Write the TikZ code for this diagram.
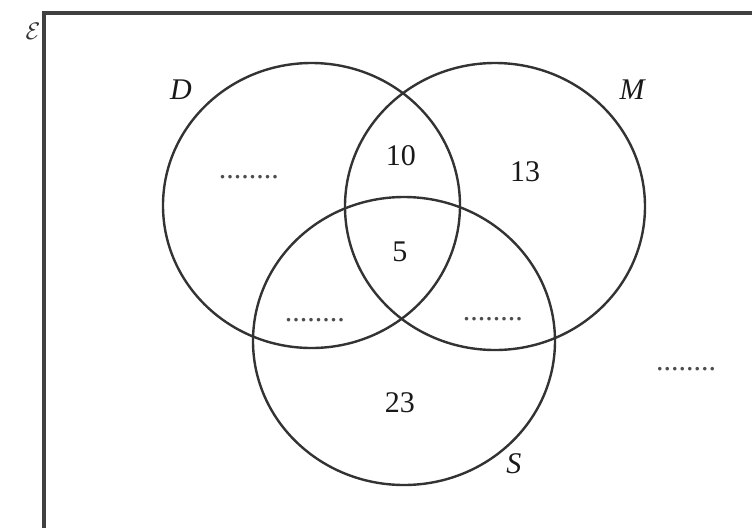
\documentclass[tikz,border=0pt]{standalone}
\usepackage{fontspec}
\setmainfont{Liberation Serif}
\usetikzlibrary{shapes.geometric}
\tikzset{
  setcirc/.style={draw=black!80, line width=1.2pt, ellipse, inner sep=0pt},
  num/.style={inner sep=0pt, font=\fontsize{15}{17}\selectfont, text=black!90},
  setname/.style={inner sep=0pt, font=\fontsize{15}{17}\selectfont\itshape, text=black!90},
  blank/.style={inner sep=0pt, font=\fontsize{15}{17}\selectfont, text=black!70},
  frame/.style={draw=black!75, line width=1.6pt}
}
\begin{document}
\begin{tikzpicture}[x=0.5pt,y=-0.5pt]
\useasboundingbox (0,0) rectangle (752,527);
% universal set frame (right and bottom edges lie outside the picture)
\draw[frame] (44,13) rectangle (780,560);
\node[inner sep=0pt, font=\fontsize{13}{15}\selectfont, text=black!80] (E) at (33,31) {$\mathcal{E}$};
% sets
\node[setcirc, minimum width=148.5pt, minimum height=142.5pt] (D) at (311.5,205.5) {};
\node[setcirc, minimum width=150pt, minimum height=143.5pt] (M) at (495,206.5) {};
\node[setcirc, minimum width=151pt, minimum height=144pt] (S) at (404,341) {};
% set labels
\node[setname] (Dl) at (181,90) {D};
\node[setname] (Ml) at (632,90) {M};
\node[setname] (Sl) at (514,464) {S};
% region values
\node[num] (n10) at (401,156) {10};
\node[num] (n13) at (525,172) {13};
\node[num] (n5) at (400,252) {5};
\node[num] (n23) at (400,403) {23};
% blanks
\node[blank] (b1) at (249,177) {........};
\node[blank] (b2) at (315,320) {........};
\node[blank] (b3) at (493,319) {........};
\node[blank] (b4) at (686,369) {........};
\end{tikzpicture}
\end{document}
